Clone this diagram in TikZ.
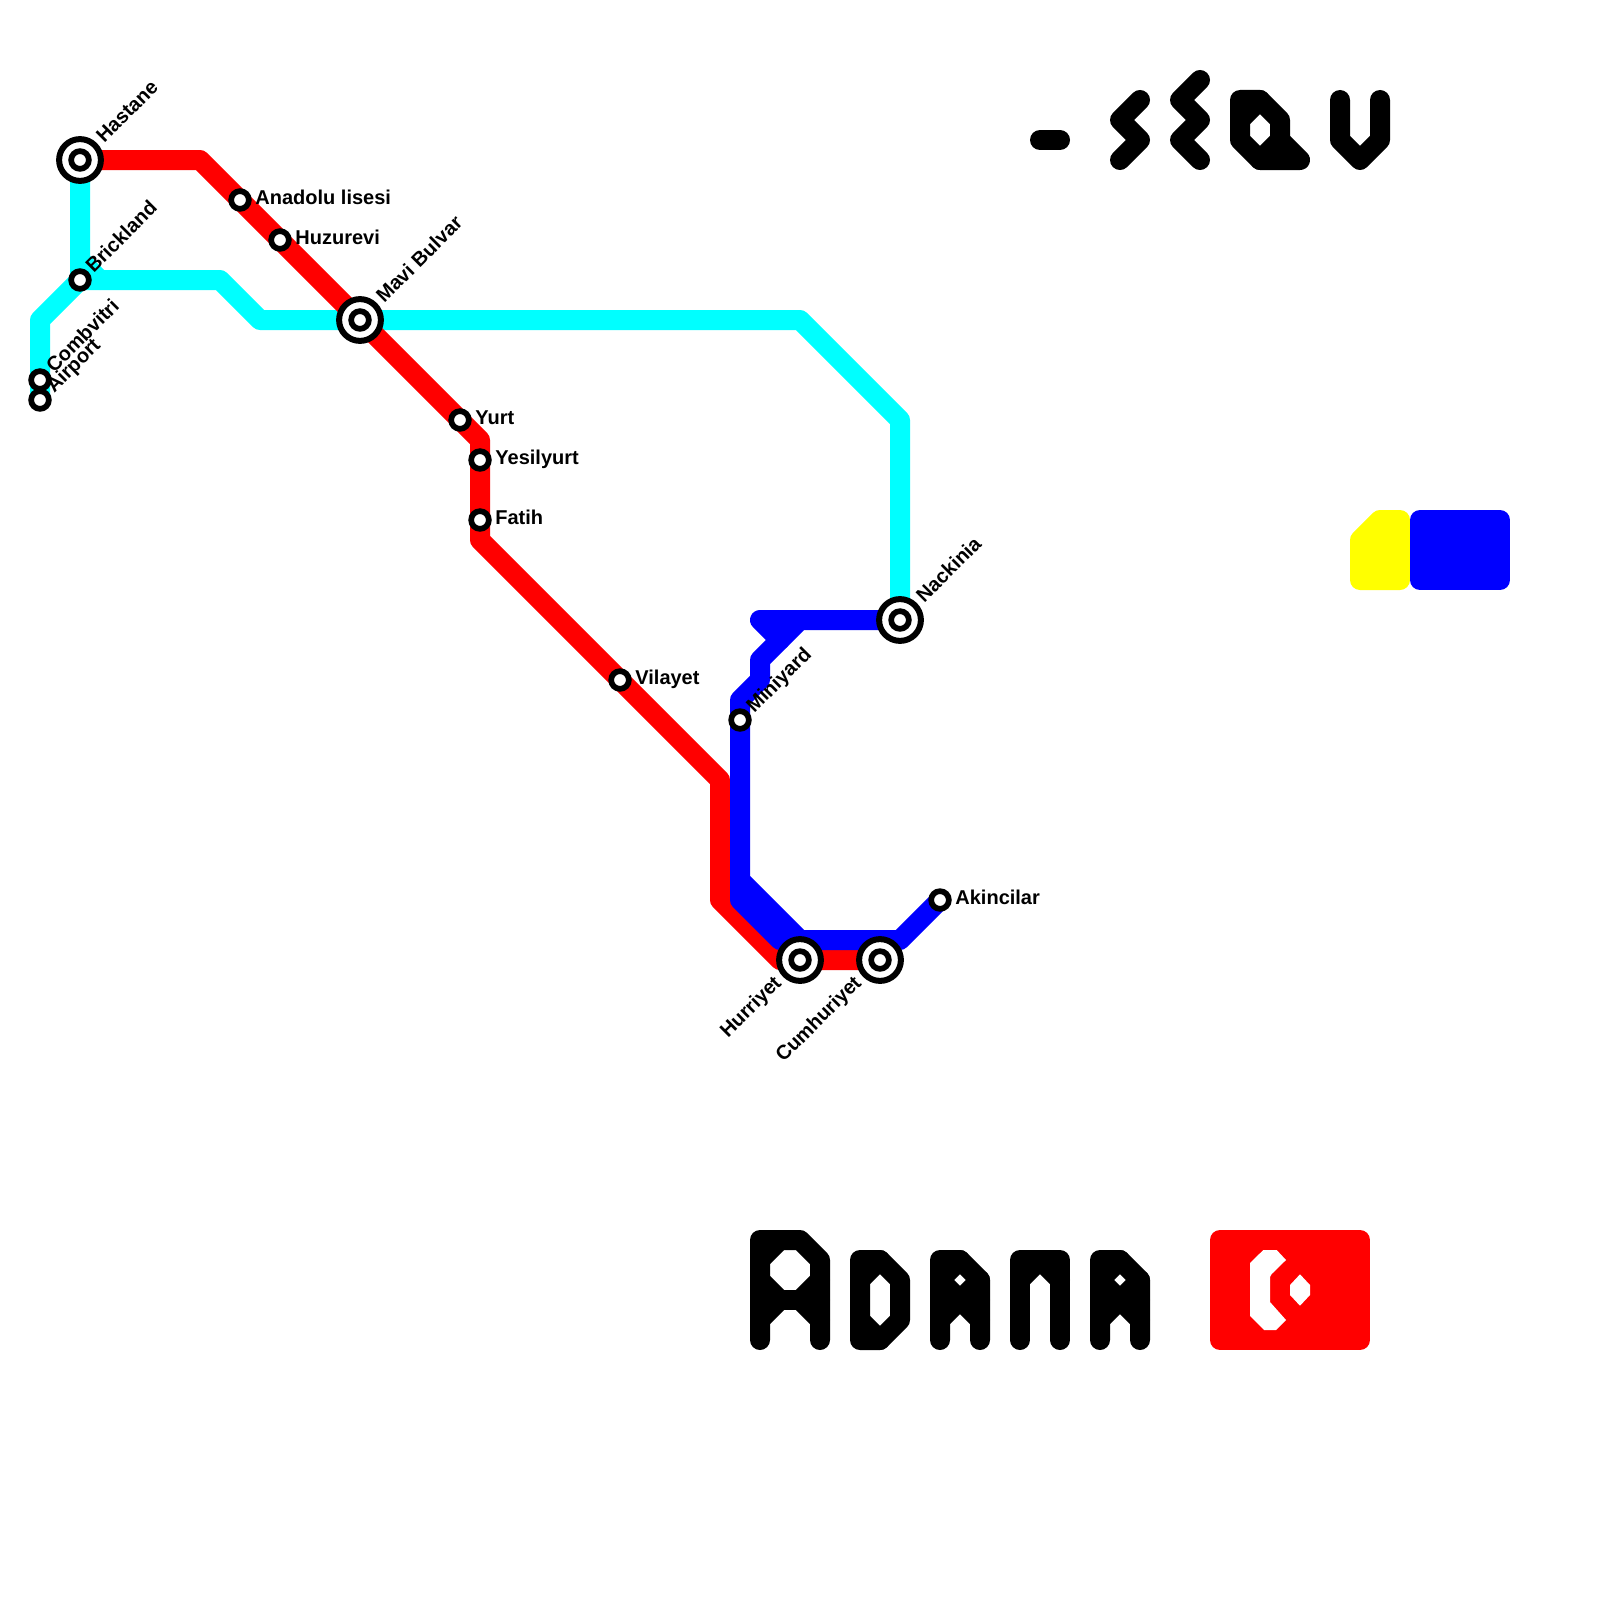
\documentclass[tikz,border=0pt]{standalone}
\usepackage{fontspec}
\setmainfont{Liberation Sans}
\usetikzlibrary{calc,backgrounds}
\definecolor{MapRed}{HTML}{FF0000}
\definecolor{MapCyan}{HTML}{00FFFF}
\definecolor{MapBlue}{HTML}{0000FF}
\definecolor{MapYellow}{HTML}{FFFF00}

\begin{document}
\begin{tikzpicture}[x=0.5pt,y=-0.5pt]
  \tikzset{
    stop/.style={circle, draw=black, fill=white, line width=2.85pt, minimum size=8.85pt, inner sep=0pt, outer sep=0pt},
    hubring/.style={circle, draw=black, fill=white, line width=3pt, minimum size=20.9pt, inner sep=0pt, outer sep=0pt},
    flatname/.style={anchor=base west, inner sep=0pt, font=\bfseries\fontsize{10pt}{12pt}\selectfont},
    slantname/.style={flatname, rotate=45},
    slantback/.style={flatname, anchor=base east, rotate=45},
    mapline/.style={line width=10pt, line join=round, line cap=round},
    glyph/.style={mapline, draw=black},
    block/.style={mapline, draw=#1, fill=#1}
  }
  \useasboundingbox (0,0) rectangle (1600,1600);

  % stations
  \node[hubring] (hastane) at (80,160) {};
  \node[stop] (hastaneIn) at (hastane) {};
  \node[slantname] (hastaneName) at ($(hastane)+(24,-16)$) {Hastane};
  \node[stop] (brickland) at (80,280) {};
  \node[slantname] (bricklandName) at ($(brickland)+(13.5,-6)$) {Brickland};
  \node[stop] (combvitri) at (40,380) {};
  \node[slantname] (combvitriName) at ($(combvitri)+(14,-6)$) {Combvitri};
  \node[stop] (airport) at (40,400) {};
  \node[slantname] (airportName) at ($(airport)+(14,-6)$) {Airport};
  \node[stop] (anadolu) at (240,200) {};
  \node[flatname] (anadoluName) at ($(anadolu)+(15,4.5)$) {Anadolu lisesi};
  \node[stop] (huzurevi) at (280,240) {};
  \node[flatname] (huzureviName) at ($(huzurevi)+(15,4.5)$) {Huzurevi};
  \node[hubring] (mavi) at (360,320) {};
  \node[stop] (maviIn) at (mavi) {};
  \node[slantname] (maviName) at ($(mavi)+(24,-16)$) {Mavi Bulvar};
  \node[stop] (yurt) at (460,420) {};
  \node[flatname] (yurtName) at ($(yurt)+(15,4.5)$) {Yurt};
  \node[stop] (yesilyurt) at (480,460) {};
  \node[flatname] (yesilyurtName) at ($(yesilyurt)+(15,4.5)$) {Yesilyurt};
  \node[stop] (fatih) at (480,520) {};
  \node[flatname] (fatihName) at ($(fatih)+(15,4.5)$) {Fatih};
  \node[stop] (vilayet) at (620,680) {};
  \node[flatname] (vilayetName) at ($(vilayet)+(15,4.5)$) {Vilayet};
  \node[stop] (miniyard) at (740,720) {};
  \node[slantname] (miniyardName) at ($(miniyard)+(14,-6)$) {Miniyard};
  \node[hubring] (nackinia) at (900,620) {};
  \node[stop] (nackiniaIn) at (nackinia) {};
  \node[slantname] (nackiniaName) at ($(nackinia)+(24,-16)$) {Nackinia};
  \node[hubring] (hurriyet) at (800,960) {};
  \node[stop] (hurriyetIn) at (hurriyet) {};
  \node[slantback] (hurriyetName) at ($(hurriyet)+(-17.5,24)$) {Hurriyet};
  \node[hubring] (cumhuriyet) at (880,960) {};
  \node[stop] (cumhuriyetIn) at (cumhuriyet) {};
  \node[slantback] (cumhuriyetName) at ($(cumhuriyet)+(-17.5,24)$) {Cumhuriyet};
  \node[stop] (akincilar) at (940,900) {};
  \node[flatname] (akincilarName) at ($(akincilar)+(15,4.5)$) {Akincilar};

  % bends of the lines
  \coordinate (c1) at (40,320);
  \coordinate (c2) at (220,280);
  \coordinate (c3) at (260,320);
  \coordinate (c4) at (800,320);
  \coordinate (c5) at (900,420);
  \coordinate (c6) at (80,260);
  \coordinate (c7) at (100,280);
  \coordinate (r1) at (200,160);
  \coordinate (r2) at (480,440);
  \coordinate (r3) at (480,540);
  \coordinate (r4) at (720,780);
  \coordinate (r5) at (720,900);
  \coordinate (r6) at (780,960);
  \coordinate (b1) at (760,620);
  \coordinate (b2) at (800,620);
  \coordinate (b3) at (780,640);
  \coordinate (b4) at (760,660);
  \coordinate (b5) at (760,680);
  \coordinate (b6) at (740,700);
  \coordinate (b7) at (740,880);
  \coordinate (b8) at (740,900);
  \coordinate (b9) at (780,940);
  \coordinate (b10) at (800,940);
  \coordinate (b11) at (900,940);

  \begin{scope}[on background layer]
    \draw[mapline,MapCyan] (hastane.center) -- (brickland.center) -- (c1) -- (airport.center);
    \draw[mapline,MapCyan] (brickland.center) -- (c2) -- (c3) -- (c4) -- (c5) -- (nackinia.center);
    \draw[mapline,MapCyan] (c6) -- (c7);
    \draw[mapline,MapRed] (hastane.center) -- (r1) -- (r2) -- (r3) -- (r4) -- (r5) -- (r6) -- (cumhuriyet.center);
    \draw[mapline,MapBlue] (nackinia.center) -- (b2) -- (b4) -- (b5) -- (b6) -- (b7) -- (b10) -- (b11) -- (akincilar.center);
    \draw[mapline,MapBlue] (b3) -- (b1) -- (b2);
    \draw[mapline,MapBlue] (b7) -- (b8) -- (b9) -- (b10);
  \end{scope}

  % lettering, top right
  \draw[glyph] (1040,140) -- (1060,140);
  \draw[glyph] (1140,100) -- (1120,120) -- (1140,140) -- (1120,160);
  \draw[glyph] (1200,80) -- (1180,100) -- (1200,120) -- (1180,140) -- (1200,160);
  \draw[glyph] (1240,100) -- (1240,140) -- (1260,160) -- (1280,140) -- (1280,120) -- (1260,100) -- cycle;
  \draw[glyph] (1240,120) -- (1260,100);
  \draw[glyph] (1260,160) -- (1300,160) -- (1280,140);
  \draw[glyph] (1340,100) -- (1340,140) -- (1360,160) -- (1380,140) -- (1380,100);

  % lettering, bottom
  \draw[glyph] (760,1340) -- (760,1240) -- (800,1240) -- (820,1260) -- (820,1340);
  \draw[glyph] (760,1300) -- (820,1300);
  \draw[glyph] (760,1260) -- (780,1240);
  \draw[glyph] (760,1280) -- (780,1300) -- (760,1320);
  \draw[glyph] (820,1280) -- (800,1300) -- (820,1320);
  \draw[glyph] (860,1260) -- (880,1260) -- (900,1280) -- (900,1320) -- (880,1340) -- (860,1340) -- cycle;
  \draw[glyph] (860,1280) -- (880,1260);
  \draw[glyph] (860,1320) -- (880,1340);
  \foreach \a in {940,1100}{
    \begin{scope}[shift={(\a-940,0)}]
      \draw[glyph] (940,1340) -- (940,1260) -- (960,1260) -- (980,1280) -- (980,1340);
      \draw[glyph] (940,1300) -- (980,1300);
      \draw[glyph] (960,1260) -- (940,1280) -- (960,1300) -- (980,1280);
      \draw[glyph] (940,1320) -- (960,1300) -- (980,1320);
    \end{scope}
  }
  \draw[glyph] (1020,1340) -- (1020,1260) -- (1060,1260) -- (1060,1340);
  \draw[glyph] (1020,1280) -- (1040,1260) -- (1060,1280);

  % colour blocks
  \draw[block=MapRed] (1220,1240) rectangle (1360,1340);
  \fill[white] (1263.3,1250) -- (1276.7,1250) -- (1286,1260) -- (1271.7,1274) -- (1270,1277) -- (1270,1302) -- (1286,1320) -- (1276,1330) -- (1264,1330) -- (1250,1316) -- (1250,1263) -- cycle;
  \fill[white] (1300,1274.3) -- (1310,1285) -- (1310,1295) -- (1300,1305.7) -- (1290,1295) -- (1290,1285) -- cycle;
  \draw[block=MapYellow] (1360,540) -- (1380,520) -- (1400,520) -- (1400,580) -- (1360,580) -- cycle;
  \draw[block=MapBlue] (1420,520) rectangle (1500,580);
\end{tikzpicture}
\end{document}
